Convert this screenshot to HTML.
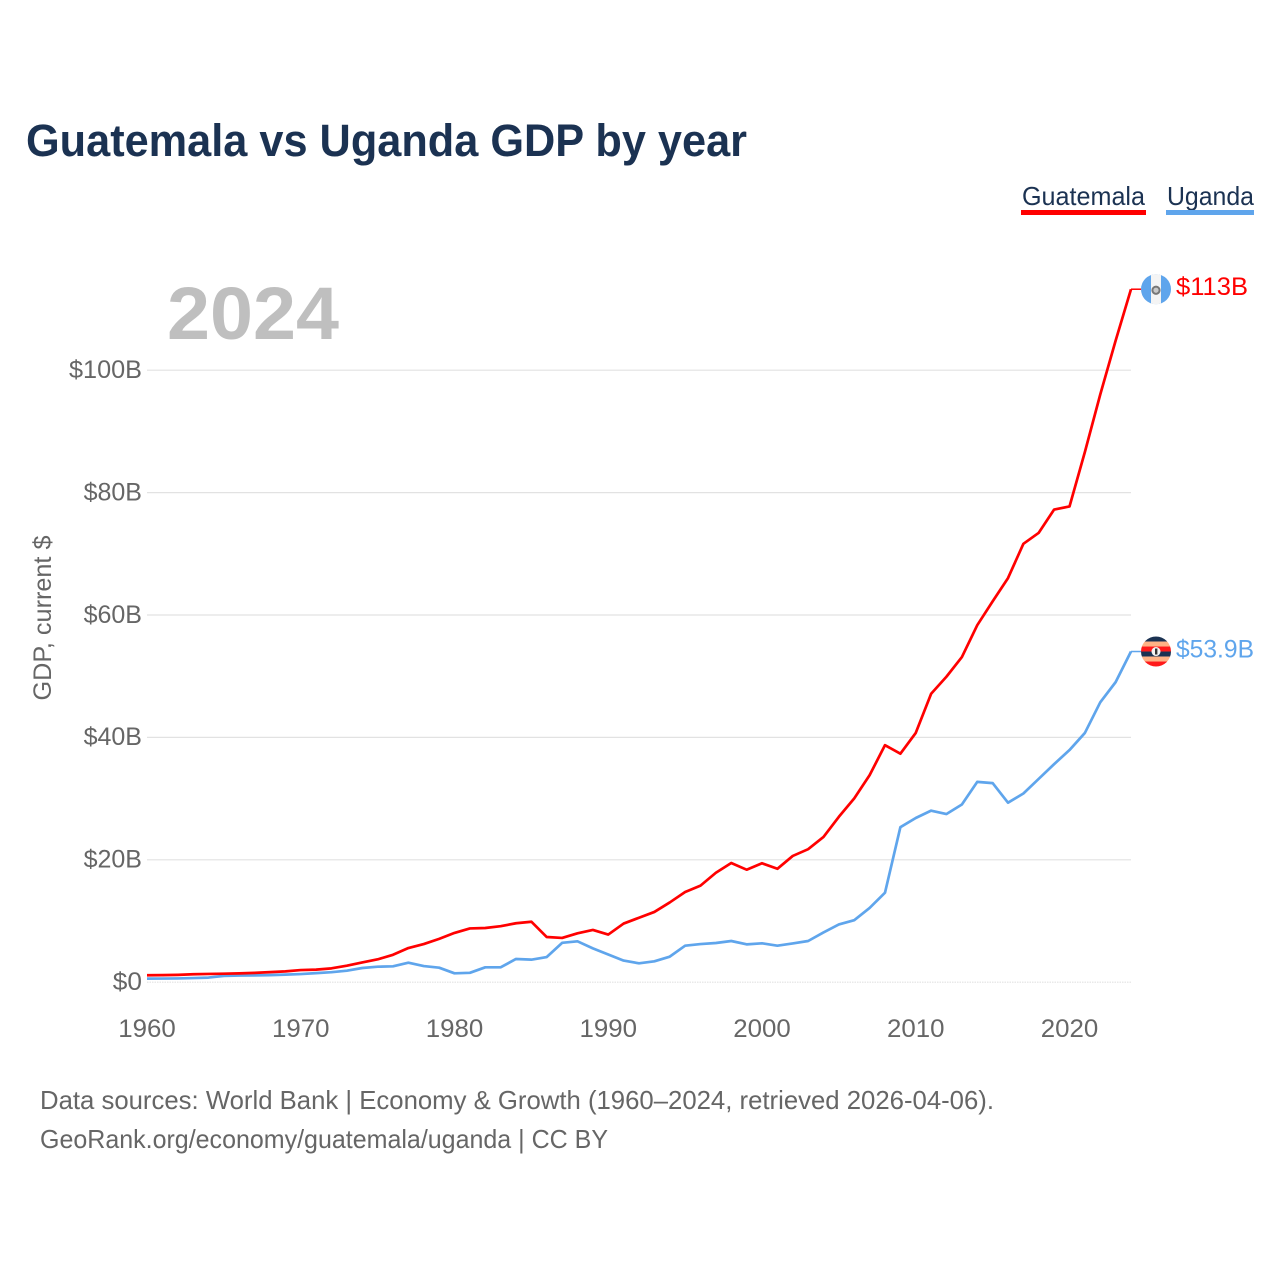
<!DOCTYPE html>
<html lang="en">
<head>
<meta charset="utf-8">
<title>Guatemala vs Uganda GDP by year</title>
<style>
html,body{margin:0;padding:0;background:#fff;width:1280px;height:1280px;overflow:hidden}
svg{display:block}
text{font-family:"Liberation Sans",sans-serif}
</style>
</head>
<body>
<svg id="chart" width="1280" height="1280" viewBox="0 0 1280 1280" xmlns="http://www.w3.org/2000/svg">
  <text x="26" y="156" font-size="45" font-weight="700" fill="#1b3252" textLength="721" lengthAdjust="spacingAndGlyphs">Guatemala vs Uganda GDP by year</text>
  <g>
    <g>
      <text x="1022" y="205" font-size="26" fill="#1b3252" textLength="123" lengthAdjust="spacingAndGlyphs">Guatemala</text>
      <rect x="1021" y="210" width="125" height="5" fill="#ff0000"/>
    </g>
    <g>
      <text x="1167" y="205" font-size="26" fill="#1b3252" textLength="87" lengthAdjust="spacingAndGlyphs">Uganda</text>
      <rect x="1166" y="210" width="88" height="5" fill="#5fa5ec"/>
    </g>
  </g>
  <text x="167" y="339" font-size="74" font-weight="700" fill="#bfbfbf" textLength="172" lengthAdjust="spacingAndGlyphs">2024</text>
  <text transform="translate(51,618) rotate(-90)" text-anchor="middle" font-size="25" fill="#666666" textLength="165" lengthAdjust="spacingAndGlyphs">GDP, current $</text>
  <g id="grid"></g>
  <g id="yticks"></g>
  <g id="xticks"></g>
  <g id="series"></g>
  <g id="ends"></g>
  <text x="40" y="1109" font-size="26" fill="#666666" textLength="954" lengthAdjust="spacingAndGlyphs">Data sources: World Bank | Economy &amp; Growth (1960–2024, retrieved 2026-04-06).</text>
  <text x="40" y="1148" font-size="26" fill="#666666" textLength="568" lengthAdjust="spacingAndGlyphs">GeoRank.org/economy/guatemala/uganda | CC BY</text>
</svg>
<script>
const startYear = 1960;
const endYear = 2024;
const yTickValues = [0, 20, 40, 60, 80, 100];
const yTickLabels = ["$0", "$20B", "$40B", "$60B", "$80B", "$100B"];
const xTickValues = [1960, 1970, 1980, 1990, 2000, 2010, 2020];
const xTickLabels = ["1960", "1970", "1980", "1990", "2000", "2010", "2020"];
const guatemala = [1.1,1.12,1.17,1.27,1.32,1.36,1.41,1.49,1.62,1.74,1.95,2.02,2.23,2.66,3.2,3.7,4.45,5.55,6.2,7.05,8.02,8.75,8.82,9.12,9.6,9.85,7.35,7.2,7.95,8.5,7.75,9.55,10.5,11.45,13.0,14.7,15.75,17.85,19.45,18.35,19.4,18.5,20.6,21.7,23.7,27.0,30.0,33.8,38.7,37.3,40.7,47.1,49.9,53.1,58.3,62.2,66.0,71.6,73.4,77.2,77.7,86.6,96.0,104.8,113.2];
const uganda = [0.55,0.56,0.58,0.64,0.72,1.0,1.05,1.08,1.12,1.2,1.3,1.45,1.6,1.85,2.29,2.5,2.56,3.15,2.6,2.34,1.42,1.5,2.4,2.4,3.76,3.65,4.08,6.4,6.65,5.5,4.5,3.5,3.05,3.38,4.14,5.93,6.2,6.37,6.7,6.15,6.32,5.93,6.3,6.7,8.1,9.4,10.1,12.1,14.6,25.3,26.8,28.0,27.45,29.0,32.7,32.5,29.3,30.8,33.2,35.6,37.9,40.7,45.7,49.0,54.0];
const guatemalaEndLabel = "$113B";
const ugandaEndLabel = "$53.9B";

const NS = "http://www.w3.org/2000/svg";
const xLeft = 147, xRight = 1131, yZero = 982, yHundred = 370;
const xScale = function (year) { return xLeft + (year - startYear) * (xRight - xLeft) / (endYear - startYear); };
const yScale = function (v) { return yZero + v * (yHundred - yZero) / 100; };
function make(tag, attrs, parent) {
  const el = document.createElementNS(NS, tag);
  for (const k in attrs) el.setAttribute(k, attrs[k]);
  parent.appendChild(el);
  return el;
}
function pathFor(values) {
  return values.map(function (v, i) {
    return (i ? "L" : "M") + xScale(startYear + i).toFixed(2) + " " + yScale(v).toFixed(2);
  }).join(" ");
}

const gridG = document.getElementById("grid");
const yG = document.getElementById("yticks");
yTickValues.forEach(function (v, i) {
  const y = yScale(v) + 0.2;
  const line = make("line", {x1: xLeft, x2: xRight, y1: y, y2: y, stroke: "#e2e2e2", "stroke-width": 1.2}, gridG);
  if (v === 0) line.setAttribute("stroke-dasharray", "1.5 1");
  
  
  const t = make("text", {x: 142, y: yScale(v) + 8, "text-anchor": "end", "font-size": 25, fill: "#666666", textLength: yTickLabels[i].length * 14.6, lengthAdjust: "spacingAndGlyphs"}, yG);
  t.textContent = yTickLabels[i];
  
  
});

const xG = document.getElementById("xticks");
xTickValues.forEach(function (v, i) {
  const t = make("text", {x: xScale(v), y: 1037, "text-anchor": "middle", "font-size": 25, fill: "#666666", textLength: 57.5, lengthAdjust: "spacingAndGlyphs"}, xG);
  t.textContent = xTickLabels[i];
  
  
});

const seriesG = document.getElementById("series");
const blueLine = make("path", {d: pathFor(uganda), fill: "none", stroke: "#5fa5ec", "stroke-width": 2.7, "stroke-linejoin": "round"}, seriesG);


const redLine = make("path", {d: pathFor(guatemala), fill: "none", stroke: "#ff0000", "stroke-width": 2.7, "stroke-linejoin": "round"}, seriesG);



const endsG = document.getElementById("ends");
const cx = 1156;
const defs = make("defs", {}, endsG);

// Guatemala end marker
const gy = yScale(guatemala[guatemala.length - 1]);
const gConn = make("line", {x1: xRight, x2: 1141, y1: gy, y2: gy, stroke: "#ff0000", "stroke-width": 1.5}, endsG);


const gClip = make("clipPath", {id: "clip-gt"}, defs);
make("circle", {cx: cx, cy: gy, r: 15}, gClip);
const gFlag = make("g", {"clip-path": "url(#clip-gt)"}, endsG);


make("rect", {x: cx - 15, y: gy - 15, width: 30, height: 30, fill: "#5fa5ec"}, gFlag);
make("rect", {x: cx - 5, y: gy - 15, width: 10, height: 30, fill: "#f4f4f4"}, gFlag);
make("circle", {cx: cx, cy: gy + 1, r: 3.6, fill: "#c8c8c8", stroke: "#777777", "stroke-width": 2}, gFlag);
const gLabel = make("text", {x: 1176, y: gy + 6, "font-size": 25, fill: "#ff0000", textLength: 72, lengthAdjust: "spacingAndGlyphs"}, endsG);
gLabel.textContent = guatemalaEndLabel;



// Uganda end marker
const uy = yScale(uganda[uganda.length - 1]);
const uConn = make("line", {x1: xRight, x2: 1141, y1: uy, y2: uy, stroke: "#5fa5ec", "stroke-width": 1.5}, endsG);


const uClip = make("clipPath", {id: "clip-ug"}, defs);
make("circle", {cx: cx, cy: uy, r: 15}, uClip);
const uFlag = make("g", {"clip-path": "url(#clip-ug)"}, endsG);


["#1b3252", "#ffb285", "#ff1a1a", "#1b3252", "#ffb285", "#ff1a1a"].forEach(function (c, i) {
  make("rect", {x: cx - 15, y: uy - 15 + i * 5, width: 30, height: 5, fill: c}, uFlag);
});
make("circle", {cx: cx, cy: uy, r: 4.5, fill: "#f4f4f4"}, uFlag);
make("rect", {x: cx - 1, y: uy - 3, width: 2.4, height: 6, fill: "#333333"}, uFlag);
const uLabel = make("text", {x: 1176, y: uy + 6, "font-size": 25, fill: "#5fa5ec", textLength: 78, lengthAdjust: "spacingAndGlyphs"}, endsG);
uLabel.textContent = ugandaEndLabel;


</script>
</body>
</html>
